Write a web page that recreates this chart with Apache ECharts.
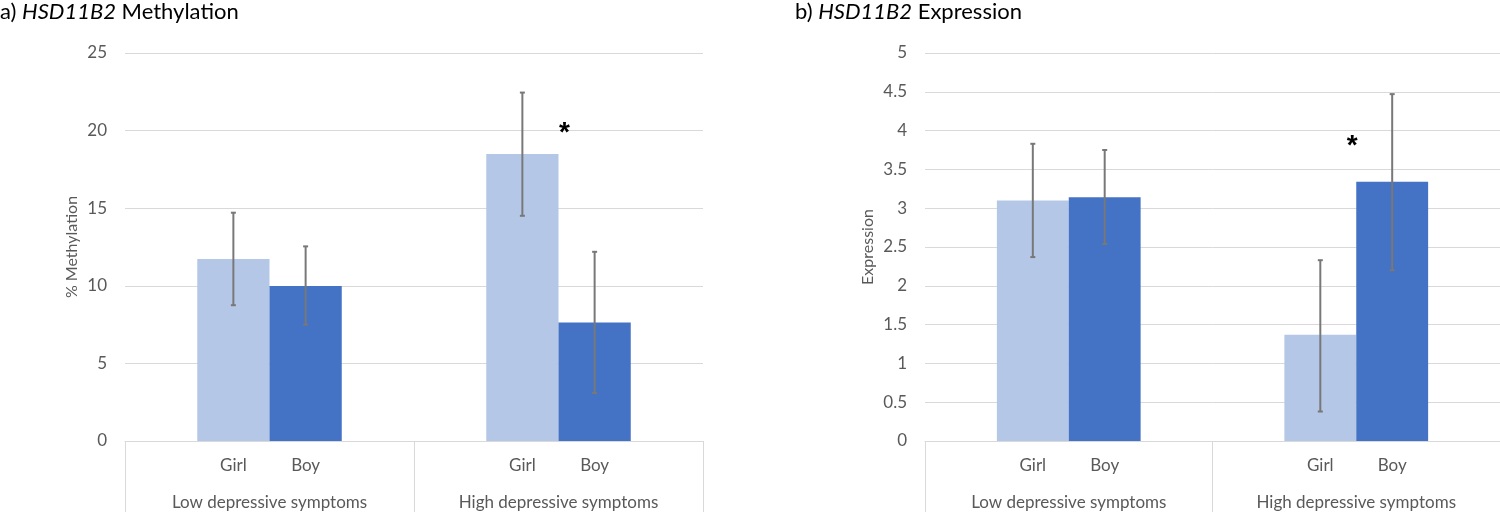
<!DOCTYPE html>
<html>
<head>
<meta charset="utf-8">
<script src="https://cdn.jsdelivr.net/npm/echarts@6/dist/echarts.min.js"></script>
<style>html,body{margin:0;padding:0;background:#fff}#c{width:1500px;height:512px}</style>
</head>
<body>
<div id="c"></div>
<script>
// ---- data ----
const groups = ['Low depressive symptoms', 'High depressive symptoms'];
const sexes = ['Girl', 'Boy'];
// a) % Methylation
const methGirl = [11.72, 18.5];
const methBoy = [9.99, 7.63];
const methGirlErr = [[8.75, 14.71], [14.51, 22.45]];
const methBoyErr = [[7.5, 12.54], [3.09, 12.19]];
const methSig = [null, 20.37];      // asterisk height per group
// b) Expression
const exprGirl = [3.10, 1.37];
const exprBoy = [3.14, 3.34];
const exprGirlErr = [[2.37, 3.83], [0.38, 2.33]];
const exprBoyErr = [[2.54, 3.75], [2.2, 4.47]];
const exprSig = [null, 3.90];
// axes
const methAxis = { min: 0, max: 25, interval: 5, name: '% Methylation' };
const exprAxis = { min: 0, max: 5, interval: 0.5, name: 'Expression' };

const FONT = 'Lato';
const LIGHT = '#B4C7E7', DARK = '#4472C4';
const GRID_C = '#D9D9D9', TXT = '#595959', ERR = '#787878';

// slot layout: each group -> ['', Girl, Boy, '']
const slotCats = [];
groups.forEach(() => { slotCats.push(''); sexes.forEach(s => slotCats.push(s)); slotCats.push(''); });
const slotOf = (g, s) => g * (sexes.length + 2) + 1 + s;

function barData(vals, s) {
  const arr = slotCats.map(() => '-');
  vals.forEach((v, g) => { arr[slotOf(g, s)] = v; });
  return arr;
}
function errData(errs, s) {
  return errs.map((e, g) => [slotOf(g, s), e[0], e[1]]);
}
function sigData(sig) {
  const out = [];
  sig.forEach((v, g) => { if (v != null) out.push([slotOf(g, 0), v]); });
  return out;
}

function errRender(params, api) {
  const x = api.value(0);
  const lo = api.coord([x, api.value(1)]);
  const hi = api.coord([x, api.value(2)]);
  const st = { stroke: ERR, lineWidth: 2 };
  const cw = 2.5;
  return { type: 'group', children: [
    { type: 'line', shape: { x1: lo[0], y1: lo[1], x2: hi[0], y2: hi[1] }, style: st },
    { type: 'line', shape: { x1: hi[0] - cw, y1: hi[1], x2: hi[0] + cw, y2: hi[1] }, style: st },
    { type: 'line', shape: { x1: lo[0] - cw, y1: lo[1], x2: lo[0] + cw, y2: lo[1] }, style: st }
  ]};
}
function sigRender(dx) {
  return function (params, api) {
    const p = api.coord([api.value(0), api.value(1)]);
    const bw = api.size([1, 0])[0];
    return { type: 'text', style: {
      x: p[0] + bw / 2 + dx, y: p[1] + 8, text: '*',
      fill: '#000', font: 'bold 28px "Liberation Sans"', align: 'center', verticalAlign: 'middle'
    }};
  };
}

function titleRich(prefix, suffix, left) {
  return {
    left: left, top: 0, padding: 0,
    text: '{n|' + prefix + ' }{i|HSD11B2}{n| ' + suffix + '}',
    textStyle: { fontWeight: 'normal', rich: {
      n: { fontSize: 22, fontFamily: FONT, fontWeight: 'normal', color: '#000', lineHeight: 24 },
      i: { fontSize: 22, fontFamily: FONT, fontWeight: 'normal', fontStyle: 'italic', color: '#000', lineHeight: 24 }
    }}
  };
}

function xAxes(gi) {
  return [
    { type: 'category', gridIndex: gi, data: slotCats, position: 'bottom',
      axisLine: { show: true, lineStyle: { color: GRID_C, width: 1 } },
      axisTick: { show: false },
      axisLabel: { interval: 0, color: TXT, fontSize: 17, fontFamily: FONT, margin: 16 } },
    { type: 'category', gridIndex: gi, data: groups, position: 'bottom',
      axisLine: { show: false },
      axisTick: { show: true, interval: 0, length: 75, lineStyle: { color: GRID_C, width: 1 } },
      axisLabel: { interval: 0, color: TXT, fontSize: 17, fontFamily: FONT, margin: 53 } }
  ];
}
function yAxis(gi, ax, gap) {
  return { type: 'value', gridIndex: gi, min: ax.min, max: ax.max, interval: ax.interval,
    name: ax.name, nameLocation: 'middle', nameGap: gap, nameRotate: 90,
    nameTextStyle: { color: TXT, fontSize: 16, fontFamily: FONT },
    axisLine: { show: false }, axisTick: { show: false },
    axisLabel: { color: TXT, fontSize: 17, fontFamily: FONT, margin: 18 },
    splitLine: { lineStyle: { color: GRID_C, width: 1 } } };
}

function panelSeries(gi, girl, boy, gErr, bErr, sig, dx) {
  const xa = gi * 2, ya = gi;
  return [
    { type: 'bar', name: 'Girl', xAxisIndex: xa, yAxisIndex: ya, stack: 'p' + gi, barWidth: '100%',
      data: barData(girl, 0), itemStyle: { color: LIGHT }, silent: true },
    { type: 'bar', name: 'Boy', xAxisIndex: xa, yAxisIndex: ya, stack: 'p' + gi, barWidth: '100%',
      data: barData(boy, 1), itemStyle: { color: DARK }, silent: true },
    { type: 'custom', xAxisIndex: xa, yAxisIndex: ya, renderItem: errRender,
      data: errData(gErr, 0).concat(errData(bErr, 1)), z: 10, silent: true, encode: { x: 0, y: [1, 2] } },
    { type: 'custom', xAxisIndex: xa, yAxisIndex: ya, renderItem: sigRender(dx),
      data: sigData(sig), z: 11, silent: true, encode: { x: 0, y: 1 } }
  ];
}

const chart = echarts.init(document.getElementById('c'), null, { renderer: 'canvas' });
chart.setOption({
  animation: false,
  textStyle: { fontFamily: FONT },
  title: [titleRich('a)', 'Methylation', 0), titleRich('b)', 'Expression', 795)],
  grid: [
    { left: 125, top: 53, width: 578, height: 388 },
    { left: 925, top: 53, width: 577, height: 388 }
  ],
  xAxis: xAxes(0).concat(xAxes(1)),
  yAxis: [yAxis(0, methAxis, 45), yAxis(1, exprAxis, 49)],
  series: panelSeries(0, methGirl, methBoy, methGirlErr, methBoyErr, methSig, 6)
    .concat(panelSeries(1, exprGirl, exprBoy, exprGirlErr, exprBoyErr, exprSig, -4))
});
</script>
</body>
</html>
